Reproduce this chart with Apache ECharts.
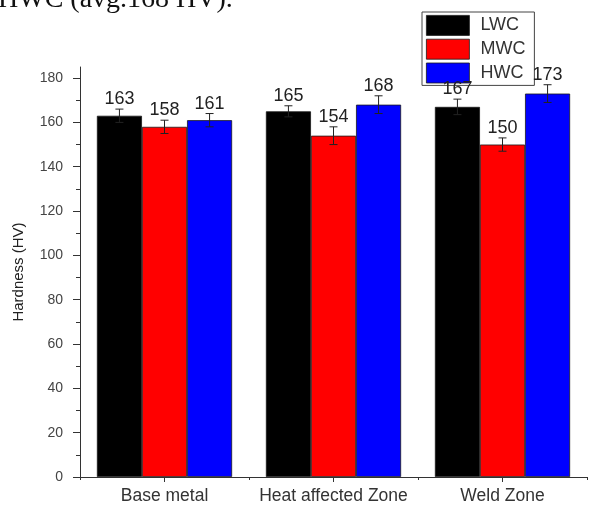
<!DOCTYPE html>
<html>
<head>
<meta charset="utf-8">
<title>Hardness by zone</title>
<script src="https://cdn.jsdelivr.net/npm/echarts@6/dist/echarts.min.js"></script>
<style>
  html, body { margin: 0; padding: 0; background: #fff; }
  #chart { width: 589px; height: 506px; }
</style>
</head>
<body>
<div id="chart"></div>
<script>
// Zones along the x axis
const zones = ['Base metal', 'Heat affected Zone', 'Weld Zone'];

// Mean hardness (HV) per welding condition
const lwc = [163, 165, 167];
const mwc = [158, 154, 150];
const hwc = [161, 168, 173];

// Standard deviation of each mean (HV)
const lwcErr = [3, 2.5, 3.5];
const mwcErr = [3, 4, 3];
const hwcErr = [3, 4, 4];

// Y axis tick values
const yMajorTicks = [0, 20, 40, 60, 80, 100, 120, 140, 160, 180];
const yMinorTicks = [10, 30, 50, 70, 90, 110, 130, 150, 170];

const seriesNames = ['LWC', 'MWC', 'HWC'];
const seriesColors = ['#000000', '#ff0000', '#0000ff'];
const means = [lwc, mwc, hwc];
const errs = [lwcErr, mwcErr, hwcErr];

const FONT = '"Liberation Sans", Arial, sans-serif';
const GROUP_FRACTION = 0.8; // matches barCategoryGap 20%

const chart = echarts.init(document.getElementById('chart'), null, { renderer: 'canvas' });

const barSeries = seriesNames.map((name, i) => ({
  name: name,
  type: 'bar',
  xAxisIndex: 0,
  yAxisIndex: 0,
  data: means[i],
  barGap: '0%',
  barCategoryGap: '20%',
  itemStyle: { color: seriesColors[i], borderColor: '#1a1a1a', borderWidth: 0.8 },
  z: 2
}));

// Error bars with the mean written above each cap
const errorSeries = seriesNames.map((name, i) => ({
  name: name + ' error',
  type: 'custom',
  xAxisIndex: 0,
  yAxisIndex: 0,
  data: means[i].map((m, k) => [k, m, errs[i][k]]),
  encode: { x: 0, y: 1 },
  z: 5,
  silent: true,
  renderItem: function (params, api) {
    const k = api.value(0);
    const m = api.value(1);
    const e = api.value(2);
    const band = api.size([1, 0])[0];
    const barW = band * GROUP_FRACTION / seriesNames.length;
    const center = api.coord([k, m]);
    const x = center[0] - band * GROUP_FRACTION / 2 + (i + 0.5) * barW;
    const yTop = api.coord([k, m + e])[1];
    const yBot = api.coord([k, m - e])[1];
    const cap = 4;
    const stroke = { stroke: '#222', lineWidth: 1 };
    return {
      type: 'group',
      children: [
        { type: 'line', shape: { x1: x, y1: yTop, x2: x, y2: yBot }, style: stroke },
        { type: 'line', shape: { x1: x - cap, y1: yTop, x2: x + cap, y2: yTop }, style: stroke },
        { type: 'line', shape: { x1: x - cap, y1: yBot, x2: x + cap, y2: yBot }, style: stroke },
        {
          type: 'text',
          style: {
            text: String(m),
            x: x,
            y: yTop - 1,
            align: 'center',
            verticalAlign: 'bottom',
            fill: '#222',
            font: '18px ' + FONT
          }
        }
      ]
    };
  }
}));

const option = {
  animation: false,
  backgroundColor: '#ffffff',
  grid: { left: 80, right: 2, top: 67, bottom: 29, containLabel: false },
  graphic: [
    {
      type: 'text',
      left: -2,
      top: -14,
      style: {
        text: 'HWC (avg.168 HV).',
        font: '28px "Liberation Serif", "Times New Roman", serif',
        fill: '#111'
      }
    }
  ],
  legend: {
    data: seriesNames,
    orient: 'vertical',
    left: 422,
    top: 12,
    icon: 'rect',
    itemWidth: 43,
    itemHeight: 20,
    itemGap: 3,
    padding: [3, 9, 2, 4],
    borderColor: '#444',
    borderWidth: 1,
    itemStyle: { borderColor: '#1a1a1a', borderWidth: 0.8 },
    textStyle: { fontFamily: FONT, fontSize: 18, color: '#333', padding: [0, 0, 0, 6] }
  },
  xAxis: [
    {
      type: 'category',
      data: zones,
      axisLine: { lineStyle: { color: '#333', width: 1 } },
      axisTick: { show: true, alignWithLabel: true, length: 5, lineStyle: { color: '#333' } },
      axisLabel: { interval: 0, fontFamily: FONT, fontSize: 17.5, color: '#333', margin: 10 },
      splitLine: { show: false }
    },
    {
      // short ticks on the boundaries between zones
      type: 'category',
      data: zones,
      position: 'bottom',
      axisLine: { show: false },
      axisTick: { show: true, alignWithLabel: false, interval: 0, length: 3, lineStyle: { color: '#333' } },
      axisLabel: { show: false },
      splitLine: { show: false }
    }
  ],
  yAxis: [
    {
      type: 'value',
      min: 0,
      max: 185,
      interval: 20,
      name: 'Hardness (HV)',
      nameLocation: 'middle',
      nameGap: 54,
      nameTextStyle: { fontFamily: FONT, fontSize: 15, color: '#222' },
      axisLine: { show: true, lineStyle: { color: '#333', width: 1 } },
      axisTick: { show: true, length: 7, customValues: yMajorTicks, lineStyle: { color: '#333' } },
      axisLabel: { fontFamily: FONT, fontSize: 14, color: '#444', margin: 17, customValues: yMajorTicks },
      splitLine: { show: false }
    },
    {
      type: 'value',
      min: 0,
      max: 185,
      interval: 20,
      position: 'left',
      axisLine: { show: false },
      axisTick: { show: true, length: 4, customValues: yMinorTicks, lineStyle: { color: '#333' } },
      axisLabel: { show: false },
      splitLine: { show: false }
    }
  ],
  series: barSeries.concat(errorSeries)
};

chart.setOption(option);
</script>
</body>
</html>
